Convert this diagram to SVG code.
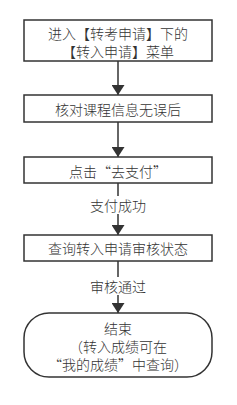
<svg xmlns="http://www.w3.org/2000/svg" width="237" height="405" viewBox="0 0 237 405">
<defs>
<style>
.box{fill:#fff;stroke:#333;stroke-width:1.5}
.t{font-family:"Noto Sans CJK SC","Liberation Sans",sans-serif;font-size:14px;font-weight:300;fill:#333;text-anchor:middle;dominant-baseline:central}
.c{stroke:#333;stroke-width:1.5;fill:none}
.lb{fill:#fff}
</style>
<marker id="ah" viewBox="0 0 10 13" refX="10" refY="6.5" markerWidth="10" markerHeight="13" markerUnits="userSpaceOnUse" orient="auto">
<path d="M0,0 L10,6.5 L0,13 Z" fill="#333"/>
</marker>
</defs>
<rect width="237" height="405" fill="#fff"/>
<g id="connectors">
<line class="c" x1="118" y1="61" x2="118" y2="95" marker-end="url(#ah)"/>
<line class="c" x1="118" y1="122" x2="118" y2="157" marker-end="url(#ah)"/>
<line class="c" x1="118" y1="183" x2="118" y2="235" marker-end="url(#ah)"/>
<rect class="lb" x="86" y="196" width="64" height="18"/>
<text class="t" x="118" y="205">支付成功</text>
<line class="c" x1="118" y1="261" x2="118" y2="313" marker-end="url(#ah)"/>
<rect class="lb" x="86" y="277" width="64" height="18"/>
<text class="t" x="118" y="286">审核通过</text>
</g>
<g id="n1">
<rect class="box" x="24" y="20" width="188" height="41"/>
<text class="t" x="118" y="33">进入【转考申请】下的</text>
<text class="t" x="118" y="51">【转入申请】菜单</text>
</g>
<g id="n2">
<rect class="box" x="24" y="95" width="188" height="27"/>
<text class="t" x="118" y="109">核对课程信息无误后</text>
</g>
<g id="n3">
<rect class="box" x="24" y="157" width="188" height="26"/>
<text class="t" x="118" y="171">点击“去支付”</text>
</g>
<g id="n4">
<rect class="box" x="24" y="235" width="188" height="26"/>
<text class="t" x="118" y="248">查询转入申请审核状态</text>
</g>
<g id="n5">
<rect class="box" x="24" y="313" width="188" height="64" rx="25" ry="25"/>
<text class="t" x="118" y="328">结束</text>
<text class="t" x="118" y="346">（转入成绩可在</text>
<text class="t" x="118" y="364">“我的成绩”中查询）</text>
</g>
</svg>
